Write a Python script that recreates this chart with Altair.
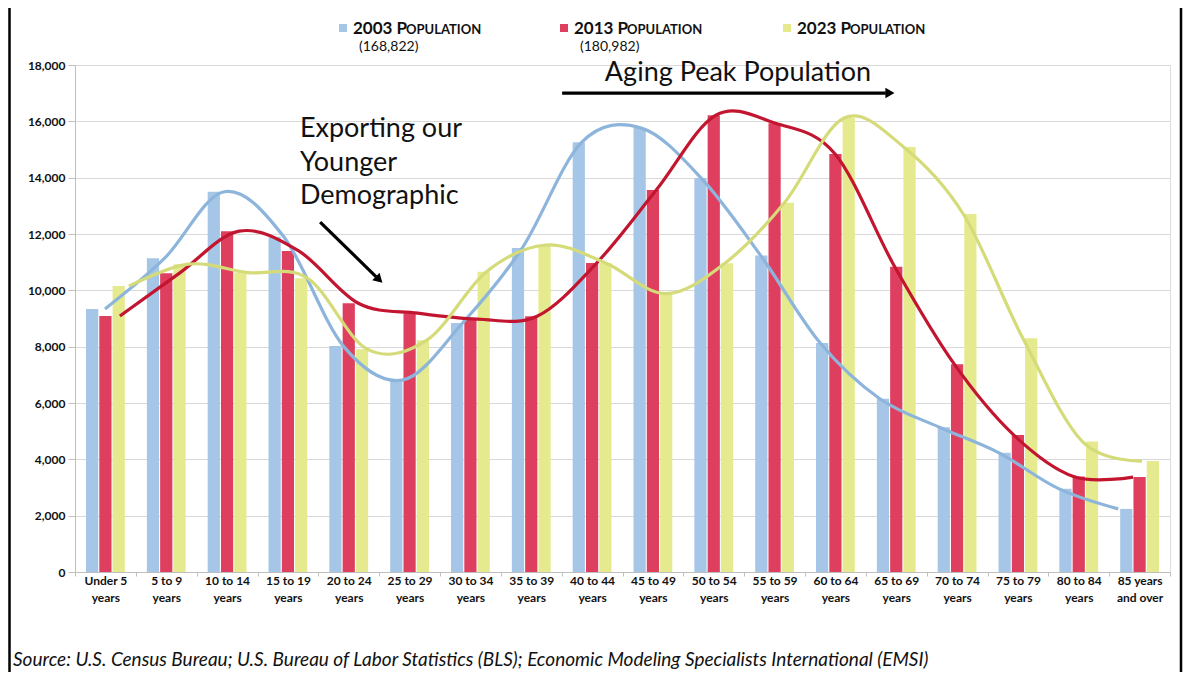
import altair as alt
import pandas as pd

# ---------------- data ----------------
age_groups = ["Under 5|years", "5 to 9|years", "10 to 14|years", "15 to 19|years",
              "20 to 24|years", "25 to 29|years", "30 to 34|years", "35 to 39|years",
              "40 to 44|years", "45 to 49|years", "50 to 54|years", "55 to 59|years",
              "60 to 64|years", "65 to 69|years", "70 to 74|years", "75 to 79|years",
              "80 to 84|years", "85 years|and over"]
pop_2003 = [9340, 11140, 13500, 11900, 8020, 6820, 8840, 11500, 15260, 15760,
            13990, 11240, 8130, 6150, 5140, 4230, 2960, 2240]
pop_2013 = [9090, 10610, 12100, 11400, 9540, 9190, 8980, 9080, 10970, 13560,
            16220, 15930, 14840, 10840, 7380, 4860, 3390, 3370]
pop_2023 = [10150, 10930, 10630, 10430, 7910, 8230, 10660, 11610, 10970, 9880,
            10960, 13110, 16120, 15090, 12710, 8300, 4630, 3940]
series_names = ["2003 Population", "2013 Population", "2023 Population"]
series_totals = ["(168,822)", "(180,982)", ""]
y_ticks = [0, 2000, 4000, 6000, 8000, 10000, 12000, 14000, 16000, 18000]
note_young = ["Exporting our", "Younger", "Demographic"]
note_aging = "Aging Peak Population"
source_text = ("Source:  U.S. Census Bureau; U.S. Bureau of Labor Statistics (BLS); "
               "Economic Modeling Specialists International (EMSI)")

# ---------------- styles ----------------
bar_colors = ["#A6C6E7", "#DF3F5F", "#E4EA8D"]
curve_colors = ["#8DB5DC", "#C2152F", "#D4DB78"]
curve_offsets = [0.0, 0.25, 0.4]
W, H = 1095, 507
FONT = "Lato"

rows = []
for s, vals in zip(series_names, [pop_2003, pop_2013, pop_2023]):
    for i, (a, v) in enumerate(zip(age_groups, vals)):
        rows.append({"age": a, "series": s, "value": v, "idx": i})
df = pd.DataFrame(rows)

# curve x scale: index units (curves are drawn slightly compressed, as in the original)
step_px, start_px = 59.6, 30.0
d0 = -start_px / step_px
d1 = d0 + W / step_px
cx = alt.Scale(domain=[d0, d1], nice=False, zero=False)
ys = alt.Scale(domain=[0, 18000], nice=False)

y_axis = alt.Axis(values=y_ticks, labelExpr="format(datum.value, ',')", grid=True,
                  gridColor="#D9D9D9", tickSize=7, tickColor="#BFBFBF",
                  domainColor="#BFBFBF", labelPadding=3, labelFontSize=12,
                  labelFontWeight="bold", labelColor="#111111", labelFont=FONT)


def Y(field):
    return alt.Y(field, scale=ys, title=None, axis=y_axis)


bars = alt.Chart(df).mark_bar().encode(
    x=alt.X("age:N", sort=age_groups, title=None,
            scale=alt.Scale(paddingInner=0, paddingOuter=0),
            axis=alt.Axis(labelExpr="isValid(datum.value) ? split(datum.value, '|') : ''",
                          labelAngle=0, tickBand="extent", tickSize=4, tickColor="#BFBFBF",
                          domainColor="#BFBFBF", labelPadding=-1, labelFontSize=12,
                          labelFontWeight="bold", labelColor="#111111",
                          labelLineHeight=17, labelBaseline="top", grid=False,
                          labelFont=FONT)),
    xOffset=alt.XOffset("series:N", sort=series_names,
                        scale=alt.Scale(paddingInner=0.08, paddingOuter=0.83)),
    y=Y("value:Q"),
    color=alt.Color("series:N", sort=series_names,
                    scale=alt.Scale(domain=series_names, range=bar_colors), legend=None),
)

layers = [bars]
for s, c, off in zip(series_names, curve_colors, curve_offsets):
    layers.append(
        alt.Chart(df[df.series == s]).transform_calculate(pos=f"datum.idx + {off}")
        .mark_line(interpolate="cardinal", strokeWidth=3.2, color=c, strokeCap="butt")
        .encode(x=alt.X("pos:Q", scale=cx, axis=None), y=Y("value:Q"), order="idx:Q")
    )

# annotations (positioned in the curve/data coordinate system)
young_df = pd.DataFrame({"t": note_young, "u": [3.27] * 3, "v": [15727, 14520, 13350]})
layers.append(alt.Chart(young_df).mark_text(align="left", baseline="middle", fontSize=27,
                                            font=FONT, color="#111111")
              .encode(x=alt.X("u:Q", scale=cx, axis=None), y=Y("v:Q"), text="t:N"))
aging_df = pd.DataFrame({"t": [note_aging], "u": [10.62], "v": [17715]})
layers.append(alt.Chart(aging_df).mark_text(align="center", baseline="middle", fontSize=27,
                                            font=FONT, color="#111111")
              .encode(x=alt.X("u:Q", scale=cx, axis=None), y=Y("v:Q"), text="t:N"))

arrows = pd.DataFrame({"u": [3.61, 7.67], "v": [12425, 17005],
                       "u2": [4.55, 13.1], "v2": [10480, 17005]})
layers.append(alt.Chart(arrows).mark_rule(strokeWidth=3.2, color="black")
              .encode(x=alt.X("u:Q", scale=cx, axis=None), x2="u2:Q",
                      y=Y("v:Q"), y2="v2:Q"))
heads = pd.DataFrame({"u": [4.6, 13.17], "v": [10380, 17005], "a": [44, 0]})
for i in range(2):
    layers.append(alt.Chart(heads.iloc[[i]]).mark_point(shape="triangle-right", filled=True,
                                                         size=110, color="black", opacity=1,
                                                         angle=int(heads.a[i]))
                  .encode(x=alt.X("u:Q", scale=cx, axis=None), y=Y("v:Q")))

# legend (custom, small caps look)
one = pd.DataFrame({"k": [0]})
legend_x = [268, 489, 712]
for i, s in enumerate(series_names):
    lx = legend_x[i]
    layers.append(alt.Chart(one).mark_square(size=64, color=bar_colors[i], opacity=1)
                  .encode(x=alt.value(lx), y=alt.value(-37)))
    layers.append(alt.Chart(one).mark_text(align="left", baseline="alphabetic", fontSize=17,
                                           fontWeight="bold", font=FONT, color="#111111")
                  .encode(x=alt.value(lx + 10), y=alt.value(-31), text=alt.value(s[:6].upper())))
    layers.append(alt.Chart(one).mark_text(align="left", baseline="alphabetic", fontSize=13,
                                           fontWeight="bold", font=FONT, color="#111111")
                  .encode(x=alt.value(lx + 63), y=alt.value(-31), text=alt.value(s[6:].upper())))
    if series_totals[i]:
        layers.append(alt.Chart(one).mark_text(align="left", baseline="middle", fontSize=14,
                                               font=FONT, color="#111111")
                      .encode(x=alt.value(lx + 16), y=alt.value(-18),
                              text=alt.value(series_totals[i])))

# source line
layers.append(alt.Chart(one).mark_text(align="left", baseline="middle", fontSize=19,
                                       fontStyle="italic", font=FONT, color="#111111")
              .encode(x=alt.value(-62), y=alt.value(595), text=alt.value(source_text)))

# frame
layers.append(alt.Chart(one).mark_rule(color="black", strokeWidth=2.5)
              .encode(x=alt.value(-65.5), y=alt.value(-57), y2=alt.value(607)))
layers.append(alt.Chart(one).mark_rule(color="black", strokeWidth=2.5)
              .encode(x=alt.value(1106), y=alt.value(-57), y2=alt.value(607)))

chart = (alt.layer(*layers)
         .resolve_scale(x="independent")
         .properties(width=W, height=H,
                     padding={"left": 67, "top": 57, "right": 14, "bottom": 100},
                     autosize=alt.AutoSizeParams(type="none"), background="white")
         .configure_view(stroke=None)
         .configure(font=FONT))

chart.save("out.html", embed_options={"renderer": "svg", "actions": False})
